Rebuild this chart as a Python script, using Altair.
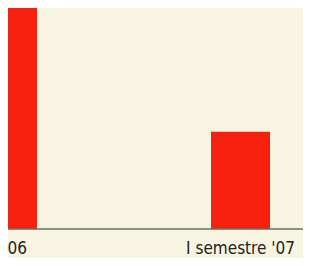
import altair as alt
import pandas as pd

categories = ["2006", "I semestre '07"]
values = [100, 44]

BG = "#f7f4e1"
RED = "#f5200e"
FONT = "DejaVu Sans Condensed, sans-serif"

df = pd.DataFrame({"periodo": categories, "valore": values})

x_enc = alt.X(
    "periodo:N",
    sort=categories,
    title=None,
    scale=alt.Scale(range=[-30, 262], paddingInner=0.7468, paddingOuter=0),
    axis=alt.Axis(
        labelAngle=0,
        domain=False,
        ticks=False,
        tickSize=0,
        grid=False,
        labelPadding=24.5,
        labelBaseline="alphabetic",
        labelFontSize=17,
        labelFont=FONT,
        labelColor="#222222",
    ),
)

bars = alt.Chart(df).mark_bar(color=RED, clip=True).encode(
    x=x_enc,
    y=alt.Y("valore:Q", title=None, axis=None,
            scale=alt.Scale(domain=[0, 100], nice=False)),
)

base = alt.Chart(df).mark_rule(color="#6e6e68", strokeWidth=1.2).encode(
    y=alt.datum(0),
    x=alt.value(0),
    x2=alt.value(295),
)

chart = (
    alt.layer(bars, base)
    .properties(
        width=295,
        height=221,
        background=BG,
        padding={"left": 0, "top": 0, "right": 0, "bottom": 29},
        autosize=alt.AutoSizeParams(type="none"),
    )
    .configure_view(stroke=None, fill=BG)
)

chart.save("out.html", embed_options={"renderer": "svg", "actions": False})
